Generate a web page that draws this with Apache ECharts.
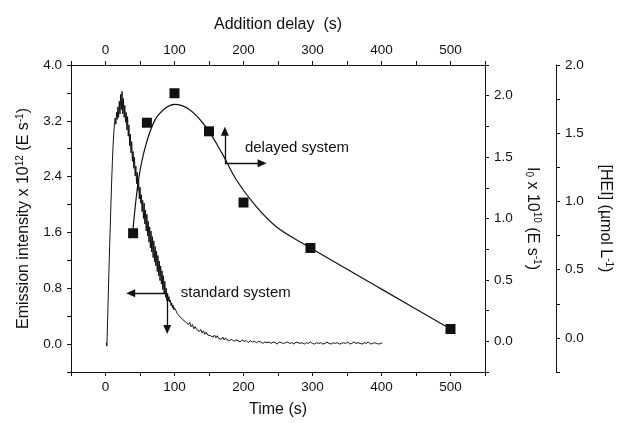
<!DOCTYPE html>
<html>
<head>
<meta charset="utf-8">
<title>Emission intensity vs time</title>
<script src="https://cdn.jsdelivr.net/npm/echarts@6/dist/echarts.min.js"></script>
<style>
  html, body { margin: 0; padding: 0; background: #fff; }
  #chart { width: 617px; height: 423px; }
</style>
</head>
<body>
<div id="chart"></div>
<script>
// Standard system: emission trace (time in s, intensity in 1e12 E/s)
const stdTime = [
  1,2,3,4,5,6,7,8,9,10,11,12,13,14,15,16,17,18,19,20,21,22,23,24,25,26,27,28,29,
  30,31,32,33,34,35,36,37,38,39,40,41,42,43,44,45,46,47,48,49,50,51,52,53,54,55,56,57,58,59,
  60,61,62,63,64,65,66,67,68,69,70,71,72,73,74,75,76,77,78,79,80,81,82,83,84,85,86,87,88,89,
  90,91,92,93,94,95,96,97,98,99,100,
  102,104,106,108,110,112,114,116,118,120,122,124,126,128,130,132,134,136,138,140,
  142,144,146,148,150,152,154,156,158,160,162,164,166,168,170,172,174,176,178,180,
  183,186,189,192,195,198,201,204,207,210,213,216,219,222,225,228,231,234,237,240,
  243,246,249,252,255,258,261,264,267,270,273,276,279,282,285,288,291,294,297,300,
  303,306,309,312,315,318,321,324,327,330,333,336,339,342,345,348,351,354,357,360,
  363,366,369,372,375,378,381,384,387,390,393,396,399,401
];
const stdEmission = [
  0.02,-0.03,0.32,0.70,1.05,1.40,1.72,2.05,2.35,2.62,2.85,3.02,3.15,
  3.24,3.15,3.32,3.22,3.40,3.25,3.48,3.30,3.58,3.36,3.62,3.30,3.52,3.25,3.42,3.18,
  3.32,3.07,3.26,2.98,3.14,2.84,3.01,2.74,2.90,2.62,2.76,2.52,2.68,2.41,2.55,2.30,2.46,2.20,2.35,2.08,
  2.25,2.02,2.14,1.90,2.06,1.80,2.02,1.72,1.92,1.62,
  1.86,1.55,1.76,1.46,1.68,1.38,1.62,1.32,1.54,1.24,1.48,1.18,1.40,1.12,1.33,1.04,1.27,0.98,1.19,0.91,
  1.12,0.86,1.05,0.78,0.98,0.72,0.90,0.67,0.80,0.62,
  0.72,0.62,0.68,0.60,0.63,0.55,0.59,0.52,0.56,0.49,0.52,
  0.48,0.44,0.43,0.39,0.40,0.35,0.37,0.32,0.33,0.28,0.31,0.25,0.28,0.22,0.25,0.21,0.23,0.18,0.21,0.16,
  0.19,0.14,0.17,0.13,0.15,0.12,0.14,0.10,0.13,0.09,0.12,0.08,0.10,0.07,0.10,0.06,0.09,0.06,0.08,0.05,
  0.07,0.04,0.06,0.05,0.03,0.06,0.04,0.05,0.02,0.05,0.03,0.04,0.02,0.04,0.03,0.01,0.03,0.02,0.03,0.01,
  0.03,0.02,0.00,0.03,0.02,0.01,0.02,0.03,0.01,0.02,0.00,0.03,0.02,0.01,0.02,0.00,0.02,0.01,0.03,0.01,
  0.00,0.02,0.01,0.02,0.00,0.01,0.03,0.01,0.00,0.02,0.01,0.02,0.00,0.01,0.02,0.01,0.03,0.00,0.01,0.03,
  0.01,0.02,0.01,0.00,0.02,0.01,0.03,0.00,0.01,0.02,0.01,0.00,0.01,0.02
];

// Delayed system: measured I0 (1e10 E/s) against addition delay (s)
const delayTime = [40, 60, 100, 150, 200, 297, 500];
const delayI0 = [0.88, 1.78, 2.02, 1.71, 1.13, 0.76, 0.10];

// Fitted curve through the delayed-system points
const fitTime = [40, 48, 58, 72, 87, 100, 121, 145, 169, 189, 218, 247, 285, 400, 500];
const fitI0 = [0.92, 1.32, 1.59, 1.805, 1.90, 1.93, 1.89, 1.75, 1.53, 1.32, 1.10, 0.935, 0.80, 0.425, 0.10];

// Axis tick label values
const timeLabels = [0, 100, 200, 300, 400, 500];
const emissionLabels = [0.0, 0.8, 1.6, 2.4, 3.2, 4.0];
const i0Labels = [0.0, 0.5, 1.0, 1.5, 2.0];
const heiLabels = [0.0, 0.5, 1.0, 1.5, 2.0];

const FONT = "'Liberation Sans', Arial, Helvetica, sans-serif";
const INK = '#111111';

const hasLabel = (list) => (v) => list.some(l => Math.abs(l - v) < 1e-6);

function fmt(list, digits) {
  const ok = hasLabel(list);
  return (v) => ok(v) ? v.toFixed(digits) : '';
}

const richScripts = {
  sup: { fontSize: 10, fontFamily: FONT, color: INK, padding: [0, 0, 8, 0] },
  sub: { fontSize: 10, fontFamily: FONT, color: INK, padding: [8, 0, 0, 0] }
};

const axisCommon = {
  type: 'value',
  axisLine: { show: true, onZero: false, lineStyle: { color: INK, width: 1 } },
  axisTick: { show: true, inside: false, length: 4, lineStyle: { color: INK, width: 1 } },
  splitLine: { show: false },
  axisLabel: { color: INK, fontSize: 13.5, fontFamily: FONT },
  nameLocation: 'middle'
};

function xAxisDef(pos, name, gap) {
  return Object.assign({}, axisCommon, {
    position: pos,
    min: -50, max: 550, interval: 50,
    name: name,
    nameGap: gap,
    nameTextStyle: { fontSize: 16, fontFamily: FONT, color: INK },
    axisLabel: Object.assign({}, axisCommon.axisLabel, {
      margin: 8,
      formatter: fmt(timeLabels, 0)
    })
  });
}

const chart = echarts.init(document.getElementById('chart'), null, { renderer: 'canvas' });

const option = {
  animation: false,
  backgroundColor: '#ffffff',
  grid: { left: 71, right: 132, top: 65, bottom: 51, containLabel: false, outerBoundsMode: 'none' },
  xAxis: [
    xAxisDef('bottom', 'Time (s)', 30),
    xAxisDef('top', 'Addition delay  (s)', 32)
  ],
  yAxis: [
    Object.assign({}, axisCommon, {
      position: 'left',
      min: -0.4, max: 4.0, interval: 0.4,
      name: 'Emission intensity x 10{sup|12} (E s{sup|-1})',
      nameGap: 38,
      nameRotate: 90,
      nameTextStyle: { fontSize: 16, fontFamily: FONT, color: INK, rich: richScripts },
      axisLabel: Object.assign({}, axisCommon.axisLabel, { margin: 9, formatter: fmt(emissionLabels, 1) })
    }),
    Object.assign({}, axisCommon, {
      position: 'right',
      min: -0.25, max: 2.25, interval: 0.25,
      name: 'I{sub|0} x 10{sup|10} (E s{sup|-1})',
      nameGap: 38,
      nameRotate: -90,
      nameTextStyle: { fontSize: 16, fontFamily: FONT, color: INK, rich: richScripts },
      axisLabel: Object.assign({}, axisCommon.axisLabel, { margin: 9, formatter: fmt(i0Labels, 1) })
    }),
    Object.assign({}, axisCommon, {
      position: 'right',
      offset: 71,
      min: -0.25, max: 2.0, interval: 0.25,
      name: '[HEI] (µmol L{sup|-1})',
      nameGap: 40,
      nameRotate: -90,
      nameTextStyle: { fontSize: 16, fontFamily: FONT, color: INK, rich: richScripts },
      axisLabel: Object.assign({}, axisCommon.axisLabel, { margin: 9, formatter: fmt(heiLabels, 1) })
    })
  ],
  series: [
    {
      name: 'standard system',
      type: 'line',
      xAxisIndex: 0,
      yAxisIndex: 0,
      showSymbol: false,
      lineStyle: { color: INK, width: 1 },
      data: stdTime.map((t, i) => [t, stdEmission[i]]),
      markLine: {
        silent: true,
        symbol: ['none', 'triangle'],
        symbolSize: [8, 9],
        label: { show: false },
        lineStyle: { color: INK, width: 1.3, type: 'solid' },
        data: [
          [{ coord: [89.4, 0.73] }, { coord: [36.5, 0.73] }],
          [{ coord: [89.4, 0.73] }, { coord: [89.4, 0.21] }]
        ]
      }
    },
    {
      name: 'delayed fit',
      type: 'line',
      xAxisIndex: 1,
      yAxisIndex: 1,
      showSymbol: false,
      smooth: 0.35,
      lineStyle: { color: INK, width: 1.2 },
      data: fitTime.map((t, i) => [t, fitI0[i]]),
      markLine: {
        silent: true,
        symbol: ['none', 'triangle'],
        symbolSize: [8, 9],
        label: { show: false },
        lineStyle: { color: INK, width: 1.3, type: 'solid' },
        data: [
          [{ coord: [173, 1.45] }, { coord: [173, 1.71] }],
          [{ coord: [173, 1.45] }, { coord: [227, 1.45] }]
        ]
      }
    },
    {
      name: 'delayed system',
      type: 'scatter',
      xAxisIndex: 1,
      yAxisIndex: 1,
      symbol: 'rect',
      symbolSize: 10,
      itemStyle: { color: INK, opacity: 1 },
      data: delayTime.map((t, i) => [t, delayI0[i]]),
      z: 5
    }
  ]
};

chart.setOption(option);

// Text annotations anchored in data coordinates
const notes = [
  { text: 'delayed system', at: [202, 1.575], axes: { xAxisIndex: 1, yAxisIndex: 1 } },
  { text: 'standard system', at: [109, 0.74], axes: { xAxisIndex: 0, yAxisIndex: 0 } }
];
chart.setOption({
  graphic: notes.map(n => {
    const p = chart.convertToPixel(n.axes, n.at);
    return {
      type: 'text',
      x: p[0], y: p[1],
      style: {
        text: n.text, fill: INK, font: '15px ' + FONT,
        textAlign: 'left', textVerticalAlign: 'middle'
      },
      silent: true
    };
  })
});
</script>
</body>
</html>
